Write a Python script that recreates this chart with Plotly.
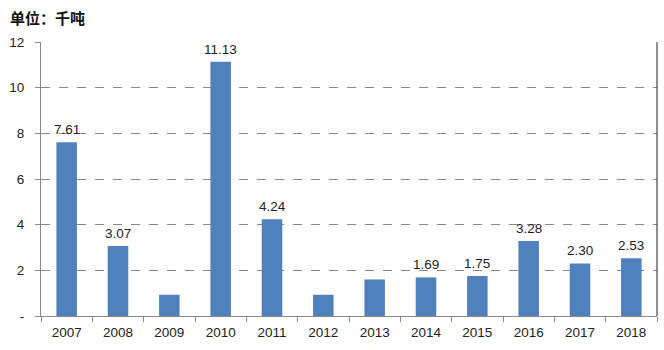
import plotly.graph_objects as go

years = ["2007", "2008", "2009", "2010", "2011", "2012", "2013", "2014", "2015", "2016", "2017", "2018"]
values = [7.61, 3.07, 0.93, 11.13, 4.24, 0.93, 1.60, 1.69, 1.75, 3.28, 2.30, 2.53]
labels = ["7.61", "3.07", "", "11.13", "4.24", "", "", "1.69", "1.75", "3.28", "2.30", "2.53"]
y_ticks = [0, 2, 4, 6, 8, 10, 12]
y_ticktext = ["-", "2", "4", "6", "8", "10", "12"]

fig = go.Figure()
fig.add_trace(go.Bar(
    x=years, y=values,
    marker=dict(color="#4F81BD", line=dict(width=0)),
    cliponaxis=False,
))

label_annotations = [
    dict(x=i, y=v, text=t, xref="x", yref="y", xanchor="center", yanchor="bottom",
         yshift=3, showarrow=False,
         font=dict(family="Liberation Sans, Arial", size=13.5, color="#222"))
    for i, (v, t) in enumerate(zip(values, labels)) if t
]

fig.update_layout(
    width=664, height=350,
    margin=dict(l=41, r=7, t=42, b=34),
    paper_bgcolor="white", plot_bgcolor="white",
    bargap=0.6, showlegend=False,
    font=dict(family="Liberation Sans, Arial", size=13.5, color="#222"),
    xaxis=dict(
        type="category", categoryorder="array", categoryarray=years,
        range=[-0.5, len(years) - 0.5],
        showgrid=False, showline=True, linecolor="#888", linewidth=1,
        ticks="outside", tickson="boundaries", ticklen=5, tickcolor="#888",
        ticklabelstandoff=4,
        tickfont=dict(size=13.5, color="#222"),
    ),
    yaxis=dict(
        range=[0, 12], tickvals=y_ticks, ticktext=y_ticktext,
        showgrid=True, gridcolor="#888", griddash="dash", gridwidth=1,
        showline=True, linecolor="#888", linewidth=1,
        ticks="outside", ticklen=5, tickcolor="#888", ticklabelstandoff=8,
        tickfont=dict(size=13.5, color="#222"), zeroline=False,
    ),
    shapes=[dict(type="line", xref="paper", yref="paper", x0=1, x1=1, y0=0, y1=1,
                 line=dict(color="#222", width=1))],
    annotations=label_annotations + [dict(text="<b>单位：千吨</b>", xref="paper", yref="paper",
                      x=-33/616, y=1, xanchor="left", yanchor="bottom", yshift=12,
                      showarrow=False,
                      font=dict(family="Noto Sans CJK SC", size=15, color="#111"))],
)

fig.write_html("out.html")
